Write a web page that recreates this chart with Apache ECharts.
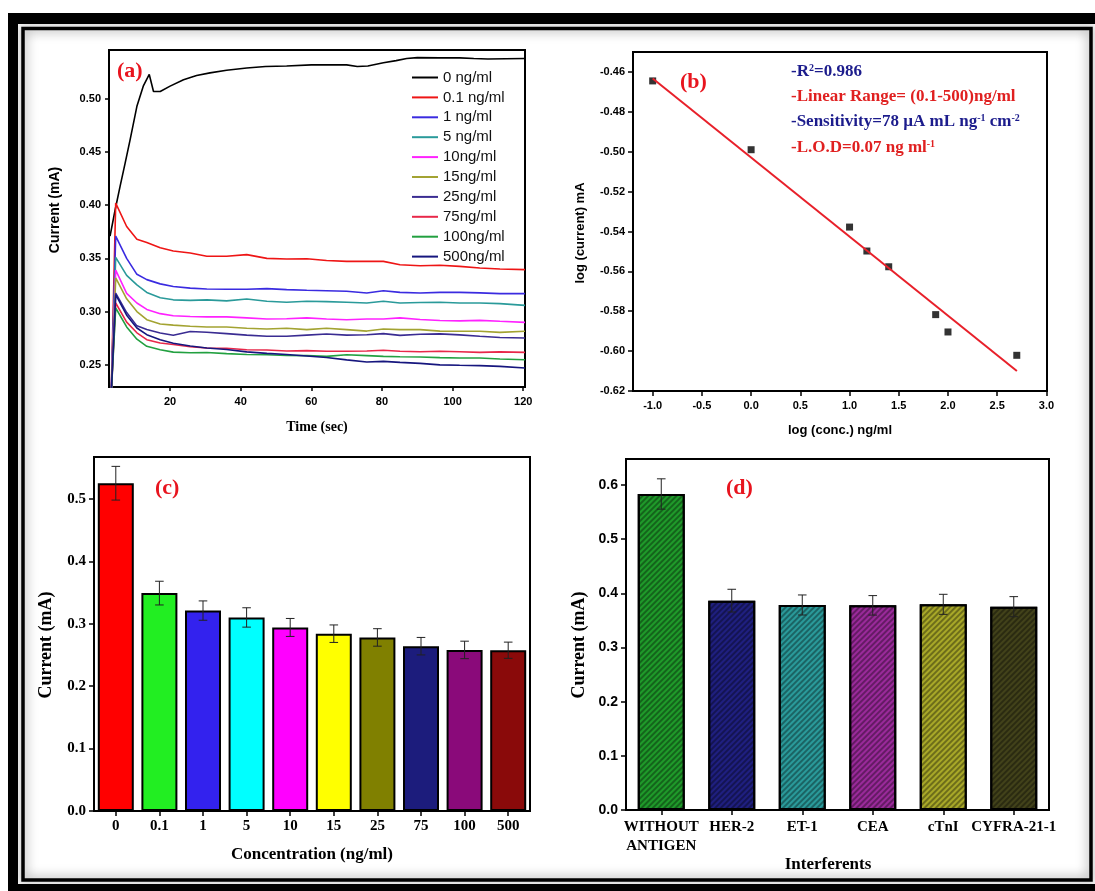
<!DOCTYPE html>
<html><head><meta charset="utf-8">
<script src="https://cdn.jsdelivr.net/npm/echarts@6/dist/echarts.min.js"></script>
<style>html,body{margin:0;padding:0;background:#fff}#c{width:1095px;height:891px}</style>
</head><body><div id="c"></div>
<script>
// ---------- Panel (a): amperometric current vs time ----------
const time0 = [3.0, 4.4, 5.85, 7.3, 8.7, 10.6, 12.4, 14.1, 15.3, 17.2, 20, 23.8, 27.5, 31.3, 36, 41.7, 47, 53, 60, 66, 70, 73, 76, 80.4, 84, 87, 90, 96.4, 102, 106, 110, 115, 120.5];
const cur0 = [0.371, 0.395, 0.418, 0.44, 0.462, 0.493, 0.512, 0.523, 0.507, 0.507, 0.512, 0.518, 0.522, 0.5245, 0.527, 0.529, 0.5305, 0.531, 0.532, 0.532, 0.532, 0.5305, 0.531, 0.534, 0.536, 0.538, 0.5388, 0.5386, 0.5386, 0.538, 0.5375, 0.5378, 0.538];
const timeA = [3.3, 4.6, 7.7, 10.6, 13.4, 17.2, 20.9, 25.7, 30.4, 36, 41.7, 47.4, 53, 58.7, 64.3, 70, 75.7, 80.4, 85.1, 90.8, 96.4, 102, 107.7, 113.4, 120.5];
const cur01 = [0.22, 0.402, 0.38, 0.368, 0.365, 0.360, 0.357, 0.355, 0.352, 0.352, 0.3535, 0.350, 0.3494, 0.3497, 0.348, 0.3472, 0.3472, 0.3472, 0.344, 0.343, 0.3435, 0.3425, 0.341, 0.340, 0.3394];
const cur1 = [0.22, 0.371, 0.350, 0.335, 0.330, 0.326, 0.3235, 0.322, 0.3212, 0.321, 0.321, 0.3215, 0.3206, 0.320, 0.3195, 0.319, 0.3174, 0.3196, 0.318, 0.3174, 0.318, 0.318, 0.3175, 0.3168, 0.3168];
const cur5 = [0.22, 0.351, 0.334, 0.325, 0.318, 0.313, 0.311, 0.3105, 0.311, 0.310, 0.3118, 0.3096, 0.3087, 0.3096, 0.3093, 0.3087, 0.308, 0.3096, 0.308, 0.3085, 0.3087, 0.308, 0.308, 0.3074, 0.3058];
const cur10 = [0.22, 0.339, 0.317, 0.308, 0.302, 0.298, 0.296, 0.2953, 0.295, 0.295, 0.294, 0.293, 0.2932, 0.294, 0.293, 0.2923, 0.293, 0.293, 0.294, 0.2925, 0.2915, 0.2912, 0.2917, 0.2908, 0.2898];
const cur15 = [0.22, 0.3316, 0.312, 0.300, 0.2923, 0.2883, 0.2872, 0.2862, 0.2855, 0.2855, 0.2842, 0.2836, 0.2842, 0.283, 0.2842, 0.283, 0.2816, 0.2836, 0.283, 0.283, 0.2816, 0.2814, 0.2814, 0.2804, 0.2814];
const cur25 = [0.22, 0.3174, 0.299, 0.2865, 0.283, 0.2798, 0.2776, 0.2812, 0.2805, 0.2792, 0.2778, 0.2768, 0.2767, 0.2778, 0.2788, 0.2778, 0.2782, 0.2792, 0.2776, 0.2786, 0.2790, 0.278, 0.2767, 0.2755, 0.2751];
const cur75 = [0.22, 0.308, 0.290, 0.280, 0.2735, 0.2704, 0.269, 0.2668, 0.2657, 0.2655, 0.2641, 0.2638, 0.2628, 0.2632, 0.2626, 0.2626, 0.2628, 0.2635, 0.2626, 0.2622, 0.2626, 0.2622, 0.2616, 0.262, 0.2616];
const cur100 = [0.22, 0.3033, 0.2855, 0.274, 0.2673, 0.2641, 0.2618, 0.2612, 0.2614, 0.2604, 0.2596, 0.2594, 0.2586, 0.2585, 0.2578, 0.2594, 0.2585, 0.2578, 0.2574, 0.2572, 0.2566, 0.2563, 0.2563, 0.2553, 0.2547];
const cur500 = [0.22, 0.3159, 0.2965, 0.2845, 0.2782, 0.2735, 0.2702, 0.2675, 0.2657, 0.2643, 0.262, 0.2606, 0.2596, 0.2582, 0.2568, 0.2545, 0.2525, 0.2531, 0.2522, 0.2512, 0.2498, 0.2494, 0.2491, 0.2484, 0.2469];
const seriesNamesA = ['0 ng/ml', '0.1 ng/ml', '1 ng/ml', '5 ng/ml', '10ng/ml', '15ng/ml', '25ng/ml', '75ng/ml', '100ng/ml', '500ng/ml'];
const colorsA = ['#000000', '#ee1515', '#3a2be0', '#2a9a9a', '#ff22ff', '#a3a332', '#3a2c92', '#e8284a', '#22a040', '#16167e'];
const ticksAx = [20, 40, 60, 80, 100, 120];
const ticksAy = [0.25, 0.30, 0.35, 0.40, 0.45, 0.50];

// ---------- Panel (b): calibration ----------
const logConc = [-1.0, 0.0, 1.0, 1.176, 1.398, 1.875, 2.0, 2.699];
const logCur = [-0.4645, -0.499, -0.5378, -0.5498, -0.5577, -0.5817, -0.5904, -0.6021];
const fitX = [-1.0, 2.7];
const fitY = [-0.4633, -0.610];
const ticksBx = [-1.0, -0.5, 0.0, 0.5, 1.0, 1.5, 2.0, 2.5, 3.0];
const ticksBy = [-0.62, -0.60, -0.58, -0.56, -0.54, -0.52, -0.50, -0.48, -0.46];

// ---------- Panel (c): concentration bars ----------
const concCats = ['0', '0.1', '1', '5', '10', '15', '25', '75', '100', '500'];
const concCur = [0.525, 0.349, 0.321, 0.310, 0.294, 0.284, 0.278, 0.264, 0.258, 0.2575];
const concErr = [0.027, 0.019, 0.0155, 0.0155, 0.0144, 0.014, 0.014, 0.014, 0.014, 0.013];
const concColors = ['#ff0000', '#22ee22', '#3322ee', '#00ffff', '#ff00ff', '#ffff00', '#808000', '#1c1c7c', '#8a0a7a', '#8a0a0a'];
const ticksCy = [0, 0.1, 0.2, 0.3, 0.4, 0.5];

// ---------- Panel (d): interferents ----------
const intCats = ['WITHOUT\nANTIGEN', 'HER-2', 'ET-1', 'CEA', 'cTnI', 'CYFRA-21-1'];
const intCur = [0.5834, 0.3865, 0.3785, 0.3778, 0.3797, 0.3754];
const intErr = [0.028, 0.021, 0.0185, 0.018, 0.0185, 0.0185];
const intColors = ['#1f9a2a', '#1f1f80', '#2a9a9a', '#9a2a9a', '#a8a828', '#42421a'];
const ticksDy = [0, 0.1, 0.2, 0.3, 0.4, 0.5, 0.6];

const SERIF = '"Liberation Serif","Times New Roman",serif';
const SANS = '"Liberation Sans",Arial,sans-serif';

const chart = echarts.init(document.getElementById('c'), null, {renderer: 'canvas'});

function axisLine() { return {show: true, onZero: false, lineStyle: {color: '#000', width: 2}}; }
function tick(len, vals) { const t = {show: true, length: len, lineStyle: {color: '#000', width: 1.5}}; if (vals) t.customValues = vals; return t; }
function lab(font, size, margin, vals, fmt) {
  const l = {fontFamily: font, fontWeight: 'bold', fontSize: size, color: '#000', margin: margin};
  if (vals) l.customValues = vals;
  if (fmt) l.formatter = fmt;
  return l;
}
function errRender(capHalf) {
  return function (params, api) {
    const x = api.value(0);
    const lo = api.coord([x, api.value(1)]);
    const hi = api.coord([x, api.value(2)]);
    const st = {stroke: '#222', lineWidth: 1};
    return {type: 'group', children: [
      {type: 'line', shape: {x1: lo[0], y1: lo[1], x2: hi[0], y2: hi[1]}, style: st},
      {type: 'line', shape: {x1: lo[0] - capHalf, y1: lo[1], x2: lo[0] + capHalf, y2: lo[1]}, style: st},
      {type: 'line', shape: {x1: hi[0] - capHalf, y1: hi[1], x2: hi[0] + capHalf, y2: hi[1]}, style: st}
    ]};
  };
}

const aVals = [cur01, cur1, cur5, cur10, cur15, cur25, cur75, cur100, cur500];
const seriesA = [{
  name: seriesNamesA[0], type: 'line', xAxisIndex: 0, yAxisIndex: 0, symbol: 'none', clip: true,
  lineStyle: {width: 1.6, color: colorsA[0]}, itemStyle: {color: colorsA[0]},
  data: time0.map((t, i) => [t, cur0[i]])
}];
aVals.forEach((vals, k) => {
  seriesA.push({
    name: seriesNamesA[k + 1], type: 'line', xAxisIndex: 0, yAxisIndex: 0, symbol: 'none', clip: true,
    lineStyle: {width: 1.6, color: colorsA[k + 1]}, itemStyle: {color: colorsA[k + 1]},
    data: timeA.map((t, i) => [t, vals[i]])
  });
});

const hatch = {symbol: 'rect', symbolSize: 1, dashArrayX: [1, 0], dashArrayY: [2, 2], rotation: -Math.PI / 4, color: 'rgba(0,0,0,0.35)'};

const option = {
  animation: false,
  backgroundColor: '#fff',
  grid: [
    {left: 109, top: 50, width: 416, height: 337, show: true, borderColor: '#000', borderWidth: 2, backgroundColor: 'transparent'},
    {left: 633, top: 52, width: 414, height: 339, show: true, borderColor: '#000', borderWidth: 2, backgroundColor: 'transparent'},
    {left: 94, top: 457, width: 436, height: 354, show: true, borderColor: '#000', borderWidth: 2, backgroundColor: 'transparent'},
    {left: 626, top: 459, width: 423, height: 351, show: true, borderColor: '#000', borderWidth: 2, backgroundColor: 'transparent'}
  ],
  xAxis: [
    {gridIndex: 0, type: 'value', min: 2.7, max: 120.5, axisLine: axisLine(), axisTick: tick(4, ticksAx),
      axisLabel: lab(SANS, 11, 9, ticksAx), splitLine: {show: false}},
    {gridIndex: 1, type: 'value', min: -1.2, max: 3.006, axisLine: axisLine(), axisTick: tick(5, ticksBx),
      axisLabel: lab(SANS, 11, 9, ticksBx, v => v.toFixed(1)), splitLine: {show: false}},
    {gridIndex: 2, type: 'category', data: concCats, axisLine: axisLine(), axisTick: {show: true, alignWithLabel: true, interval: 0, length: 5, lineStyle: {color: '#000', width: 1.5}},
      axisLabel: Object.assign(lab(SERIF, 15, 8), {interval: 0}), splitLine: {show: false}},
    {gridIndex: 3, type: 'category', data: intCats, axisLine: axisLine(), axisTick: {show: true, alignWithLabel: true, interval: 0, length: 5, lineStyle: {color: '#000', width: 1.5}},
      axisLabel: Object.assign(lab(SERIF, 15, 8), {lineHeight: 19, interval: 0, hideOverlap: false}), splitLine: {show: false}}
  ],
  yAxis: [
    {gridIndex: 0, type: 'value', min: 0.229, max: 0.546, axisLine: axisLine(), axisTick: tick(4, ticksAy),
      axisLabel: lab(SANS, 11, 8, ticksAy, v => v.toFixed(2)), splitLine: {show: false}},
    {gridIndex: 1, type: 'value', min: -0.62, max: -0.45, axisLine: axisLine(), axisTick: tick(5, ticksBy),
      axisLabel: lab(SANS, 11, 8, ticksBy, v => v.toFixed(2)), splitLine: {show: false}},
    {gridIndex: 2, type: 'value', min: 0, max: 0.567, axisLine: axisLine(), axisTick: tick(5, ticksCy),
      axisLabel: lab(SERIF, 15, 8, ticksCy, v => v.toFixed(1)), splitLine: {show: false}},
    {gridIndex: 3, type: 'value', min: 0, max: 0.648, axisLine: axisLine(), axisTick: tick(5, ticksDy),
      axisLabel: lab(SANS, 14, 8, ticksDy, v => v.toFixed(1)), splitLine: {show: false}}
  ],
  legend: {
    show: true, orient: 'vertical', left: 407, top: 65, itemWidth: 26, itemHeight: 2, itemGap: 4.9,
    icon: 'rect',
    data: seriesNamesA,
    textStyle: {fontFamily: SANS, fontSize: 15, color: '#111', lineHeight: 14, height: 14}
  },
  series: seriesA.concat([
    {type: 'scatter', xAxisIndex: 1, yAxisIndex: 1, symbol: 'rect', symbolSize: 7, itemStyle: {color: '#000'},
      data: logConc.map((x, i) => [x, logCur[i]]), z: 3},
    {type: 'line', xAxisIndex: 1, yAxisIndex: 1, symbol: 'none', lineStyle: {color: '#e8202a', width: 2},
      data: fitX.map((x, i) => [x, fitY[i]]), z: 4},
    {type: 'bar', xAxisIndex: 2, yAxisIndex: 2, barWidth: 36,
      itemStyle: {borderColor: '#000', borderWidth: 2},
      data: concCur.map((v, i) => ({value: v, itemStyle: {color: concColors[i]}}))},
    {type: 'custom', xAxisIndex: 2, yAxisIndex: 2, renderItem: errRender(4.3), z: 5,
      encode: {x: 0, y: [1, 2]},
      data: concCur.map((v, i) => [i, v - concErr[i], v + concErr[i]])},
    {type: 'bar', xAxisIndex: 3, yAxisIndex: 3, barWidth: 47,
      itemStyle: {borderColor: '#000', borderWidth: 2},
      data: intCur.map((v, i) => ({value: v, itemStyle: {color: intColors[i], decal: hatch}}))},
    {type: 'custom', xAxisIndex: 3, yAxisIndex: 3, renderItem: errRender(4.3), z: 5,
      encode: {x: 0, y: [1, 2]},
      data: intCur.map((v, i) => [i, v - intErr[i], v + intErr[i]])}
  ]),
  graphic: [
    // outer figure frame
    {type: 'rect', shape: {x: 8, y: 13, width: 1087, height: 11}, style: {fill: '#000'}, z: 100},
    {type: 'rect', shape: {x: 8, y: 13, width: 10, height: 878}, style: {fill: '#000'}, z: 100},
    {type: 'rect', shape: {x: 8, y: 884, width: 1087, height: 7}, style: {fill: '#000'}, z: 100},
    {type: 'rect', shape: {x: 23, y: 28.5, width: 1068, height: 851.5},
      style: {fill: null, stroke: '#000', lineWidth: 3.5, shadowBlur: 12, shadowColor: 'rgba(0,0,0,0.55)'}, z: 99},
    // panel letters
    {type: 'text', x: 117, y: 71, style: {text: '(a)', font: 'bold 22px ' + SERIF, fill: '#e8141e', verticalAlign: 'middle', textVerticalAlign: 'middle'}, z: 101},
    {type: 'text', x: 680, y: 82, style: {text: '(b)', font: 'bold 22px ' + SERIF, fill: '#e8141e', verticalAlign: 'middle', textVerticalAlign: 'middle'}, z: 101},
    {type: 'text', x: 155, y: 488, style: {text: '(c)', font: 'bold 22px ' + SERIF, fill: '#e8141e', verticalAlign: 'middle', textVerticalAlign: 'middle'}, z: 101},
    {type: 'text', x: 726, y: 488, style: {text: '(d)', font: 'bold 22px ' + SERIF, fill: '#e8141e', verticalAlign: 'middle', textVerticalAlign: 'middle'}, z: 101},
    // panel (b) annotations
    {type: 'text', x: 791, y: 72, z: 101, style: {text: '{a|-R}{s|2}{a|=0.986}', verticalAlign: 'middle', textVerticalAlign: 'middle',
      rich: {a: {font: 'bold 17px ' + SERIF, fill: '#1c1c8c', color: '#1c1c8c'}, s: {font: 'bold 10px ' + SERIF, fill: '#1c1c8c', color: '#1c1c8c', verticalAlign: 'top'}}}},
    {type: 'text', x: 791, y: 97, z: 101, style: {text: '-Linear Range= (0.1-500)ng/ml', font: 'bold 17px ' + SERIF, fill: '#e02020', verticalAlign: 'middle', textVerticalAlign: 'middle'}},
    {type: 'text', x: 791, y: 122, z: 101, style: {text: '{a|-Sensitivity=78 µA mL ng}{s|-1}{a| cm}{s|-2}', verticalAlign: 'middle', textVerticalAlign: 'middle',
      rich: {a: {font: 'bold 17px ' + SERIF, fill: '#1c1c8c', color: '#1c1c8c'}, s: {font: 'bold 10px ' + SERIF, fill: '#1c1c8c', color: '#1c1c8c', verticalAlign: 'top'}}}},
    {type: 'text', x: 791, y: 148, z: 101, style: {text: '{a|-L.O.D=0.07 ng ml}{s|-1}', verticalAlign: 'middle', textVerticalAlign: 'middle',
      rich: {a: {font: 'bold 17px ' + SERIF, fill: '#e02020', color: '#e02020'}, s: {font: 'bold 10px ' + SERIF, fill: '#e02020', color: '#e02020', verticalAlign: 'top'}}}},
    // axis titles
    {type: 'text', x: 55, y: 210, rotation: Math.PI / 2, z: 101, style: {text: 'Current (mA)', font: 'bold 14px ' + SANS, fill: '#000', align: 'center', textAlign: 'center', verticalAlign: 'middle', textVerticalAlign: 'middle'}},
    {type: 'text', x: 317, y: 427, z: 101, style: {text: 'Time (sec)', font: 'bold 14px ' + SERIF, fill: '#000', align: 'center', textAlign: 'center', verticalAlign: 'middle', textVerticalAlign: 'middle'}},
    {type: 'text', x: 580, y: 233, rotation: Math.PI / 2, z: 101, style: {text: 'log (current) mA', font: 'bold 13px ' + SANS, fill: '#000', align: 'center', textAlign: 'center', verticalAlign: 'middle', textVerticalAlign: 'middle'}},
    {type: 'text', x: 840, y: 430, z: 101, style: {text: 'log (conc.) ng/ml', font: 'bold 13px ' + SANS, fill: '#000', align: 'center', textAlign: 'center', verticalAlign: 'middle', textVerticalAlign: 'middle'}},
    {type: 'text', x: 46, y: 645, rotation: Math.PI / 2, z: 101, style: {text: 'Current (mA)', font: 'bold 18px ' + SERIF, fill: '#000', align: 'center', textAlign: 'center', verticalAlign: 'middle', textVerticalAlign: 'middle'}},
    {type: 'text', x: 312, y: 855, z: 101, style: {text: 'Concentration (ng/ml)', font: 'bold 17px ' + SERIF, fill: '#000', align: 'center', textAlign: 'center', verticalAlign: 'middle', textVerticalAlign: 'middle'}},
    {type: 'text', x: 579, y: 645, rotation: Math.PI / 2, z: 101, style: {text: 'Current (mA)', font: 'bold 18px ' + SERIF, fill: '#000', align: 'center', textAlign: 'center', verticalAlign: 'middle', textVerticalAlign: 'middle'}},
    {type: 'text', x: 828, y: 865, z: 101, style: {text: 'Interferents', font: 'bold 17px ' + SERIF, fill: '#000', align: 'center', textAlign: 'center', verticalAlign: 'middle', textVerticalAlign: 'middle'}}
  ]
};
chart.setOption(option);
</script></body></html>
